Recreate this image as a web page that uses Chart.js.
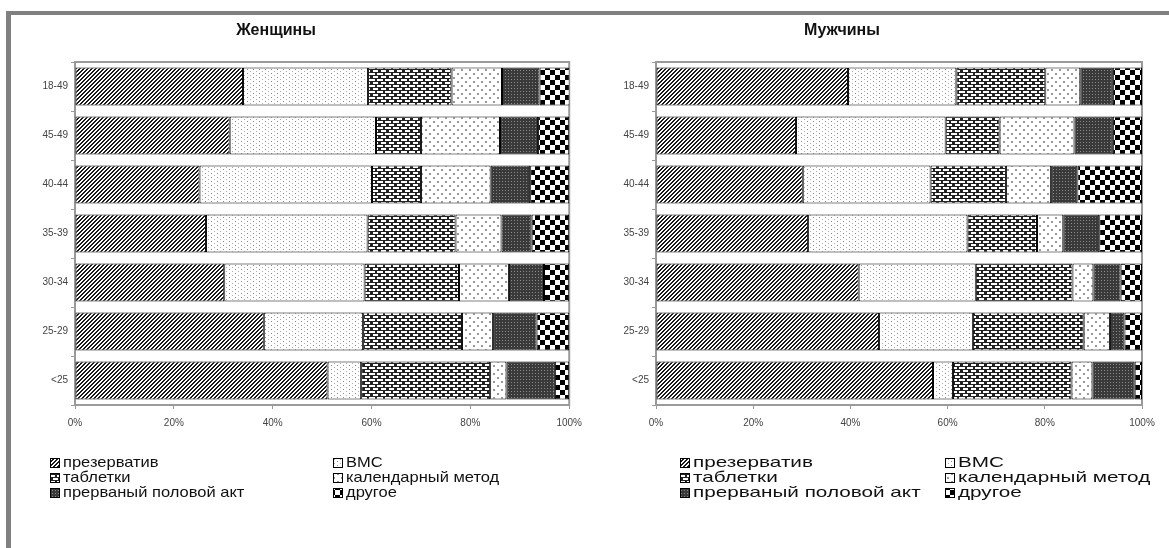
<!DOCTYPE html>
<html>
<head>
<meta charset="utf-8">
<script src="https://cdn.jsdelivr.net/npm/chart.js@4.4.1/dist/chart.umd.min.js"></script>
<style>
  body { margin: 0; background: #fff; width: 1169px; height: 548px; overflow: hidden; position: relative; }
  #frame { position: absolute; left: 6px; top: 11px; width: 1200px; height: 600px; border-left: 5px solid #808080; border-top: 4px solid #808080; }
  #womenChart { position: absolute; left: 0; top: 0; }
  #menChart { position: absolute; left: 590px; top: 0; }
</style>
</head>
<body>
<div id="frame"></div>
<canvas id="womenChart" width="590" height="548"></canvas>
<canvas id="menChart" width="579" height="548"></canvas>
<script>
// возрастные группы
const ageGroups = ["18-49", "45-49", "40-44", "35-39", "30-34", "25-29", "<25"];
const methods = ["презерватив", "ВМС", "таблетки", "календарный метод", "прерваный половой акт", "другое"];
const xTicks = [0, 20, 40, 60, 80, 100];

// Женщины, % по методам
const condomW = [34.0, 31.3, 25.2, 26.5, 30.2, 38.2, 51.1];
const iudW = [25.3, 29.6, 34.9, 32.7, 28.4, 20.1, 6.8];
const pillsW = [16.9, 9.1, 9.9, 17.8, 19.1, 20.0, 26.1];
const calendarW = [10.2, 16.0, 14.1, 9.3, 10.1, 6.3, 3.3];
const withdrawalW = [7.6, 7.7, 8.0, 6.1, 7.1, 8.8, 9.8];
const otherW = [6.1, 6.3, 7.9, 7.6, 5.1, 6.6, 2.9];

// Мужчины, % по методам
const condomM = [39.5, 28.8, 30.2, 31.3, 41.7, 45.9, 57.0];
const iudM = [22.3, 30.8, 26.3, 32.8, 24.1, 19.3, 4.1];
const pillsM = [18.3, 11.1, 15.5, 14.3, 19.9, 22.8, 24.4];
const calendarM = [7.2, 15.4, 9.3, 5.4, 4.3, 5.4, 4.3];
const withdrawalM = [6.7, 7.9, 5.4, 7.4, 5.6, 3.0, 8.7];
const otherM = [6.0, 6.0, 13.3, 8.8, 4.4, 3.6, 1.5];

const FONT = "'Liberation Sans', Arial, sans-serif";

// штриховки как в Excel
function makePattern(w, h, draw) {
  const c = document.createElement("canvas");
  c.width = w; c.height = h;
  const g = c.getContext("2d");
  draw(g);
  return g.createPattern(c, "repeat");
}
function px(g, color, pts) {
  g.fillStyle = color;
  pts.forEach(p => g.fillRect(p[0], p[1], p[2] || 1, p[3] || 1));
}
const patterns = [
  // диагональ
  makePattern(4, 4, g => {
    g.fillStyle = "#fff"; g.fillRect(0, 0, 4, 4);
    px(g, "#1a1a1a", [[3,0],[0,0],[2,1],[3,1],[1,2],[2,2],[0,3],[1,3]]);
  }),
  // мелкие точки
  makePattern(6, 4, g => {
    g.fillStyle = "#fff"; g.fillRect(0, 0, 6, 4);
    px(g, "#888", [[1,1]]);
    px(g, "#aaa", [[4,3]]);
  }),
  // кирпичи
  makePattern(8, 6, g => {
    g.fillStyle = "#222"; g.fillRect(0, 0, 8, 6);
    px(g, "#fff", [[1,1,6,2],[5,4,3,2],[0,4,2,2]]);
  }),
  // редкие ромбы
  makePattern(8, 8, g => {
    g.fillStyle = "#fff"; g.fillRect(0, 0, 8, 8);
    px(g, "#999", [[1,1,2,2],[5,5,2,2]]);
  }),
  // тёмные точки
  makePattern(3, 3, g => {
    g.fillStyle = "#3a3a3a"; g.fillRect(0, 0, 3, 3);
    px(g, "#8a8a8a", [[1,1]]);
  }),
  // шахматка
  makePattern(10, 10, g => {
    g.fillStyle = "#fff"; g.fillRect(0, 0, 10, 10);
    px(g, "#000", [[0,0,5,5],[5,5,5,5]]);
  })
];

// рамка области построения
const frameBox = {
  id: "frameBox",
  beforeDatasetsDraw(chart) {
    const a = chart.chartArea, ctx = chart.ctx;
    ctx.save();
    ctx.strokeStyle = "#9a9a9a";
    ctx.lineWidth = 2;
    ctx.strokeRect(a.left, a.top, a.right - a.left, a.bottom - a.top);
    ctx.restore();
  }
};

// заголовок и легенда в две колонки
function captionPlugin(title, tx, cols, rows, stretch) {
  return {
    id: "caption",
    afterDraw(chart) {
      const ctx = chart.ctx;
      ctx.save();
      ctx.fillStyle = "#111";
      ctx.font = "bold 16px " + FONT;
      ctx.textAlign = "center";
      ctx.textBaseline = "middle";
      ctx.fillText(title, tx, 31);
      ctx.textAlign = "left";
      ctx.font = "15px " + FONT;
      chart.data.datasets.forEach((ds, i) => {
        const x = cols[i % 2], y = rows[Math.floor(i / 2)];
        ctx.fillStyle = ds.backgroundColor;
        ctx.fillRect(x, y - 5, 10, 10);
        ctx.strokeStyle = "#000";
        ctx.lineWidth = 1;
        ctx.strokeRect(x + 0.5, y - 4.5, 9, 9);
        ctx.fillStyle = "#111";
        ctx.save();
        ctx.translate(x + 13, y);
        ctx.scale(stretch, 1);
        ctx.fillText(ds.label, 0, 0);
        ctx.restore();
      });
      ctx.restore();
    }
  };
}

function buildChart(id, title, series, pad, tx, cols, rows, stretch) {
  return new Chart(document.getElementById(id), {
    type: "bar",
    data: {
      labels: ageGroups,
      datasets: series.map((d, i) => ({
        label: methods[i],
        data: d,
        backgroundColor: patterns[i],
        borderColor: "#000",
        borderWidth: 1,
        borderSkipped: false,
        barPercentage: 0.78,
        categoryPercentage: 1
      }))
    },
    options: {
      indexAxis: "y",
      responsive: false,
      animation: false,
      layout: { padding: pad },
      plugins: {
        legend: { display: false },
        tooltip: { enabled: false },
        title: { display: false }
      },
      scales: {
        x: {
          stacked: true,
          min: 0, max: 100,
          afterFit: s => { s.height = 30; },
          afterBuildTicks: s => { s.ticks = xTicks.map(v => ({ value: v })); },
          ticks: {
            callback: v => v + "%",
            color: "#444",
            padding: 8,
            maxRotation: 0,
            font: { family: FONT, size: 10 }
          },
          grid: { drawOnChartArea: false, color: "#999", tickLength: 4 },
          border: { display: false }
        },
        y: {
          stacked: true,
          afterFit: s => { s.width = 60; },
          ticks: {
            color: "#444",
            padding: 3,
            font: { family: FONT, size: 10 }
          },
          grid: { drawOnChartArea: false, color: "#999", tickLength: 4, offset: true },
          border: { display: false }
        }
      }
    },
    plugins: [frameBox, captionPlugin(title, tx, cols, rows, stretch)]
  });
}

buildChart("womenChart", "Женщины",
  [condomW, iudW, pillsW, calendarW, withdrawalW, otherW],
  { left: 15, right: 11, top: 62, bottom: 113 },
  276, [50, 333], [463, 478, 493], 1.1);

buildChart("menChart", "Мужчины",
  [condomM, iudM, pillsM, calendarM, withdrawalM, otherM],
  { left: 6, right: 27, top: 62, bottom: 113 },
  252, [90, 355], [463, 478, 493], 1.38);
</script>
</body>
</html>
